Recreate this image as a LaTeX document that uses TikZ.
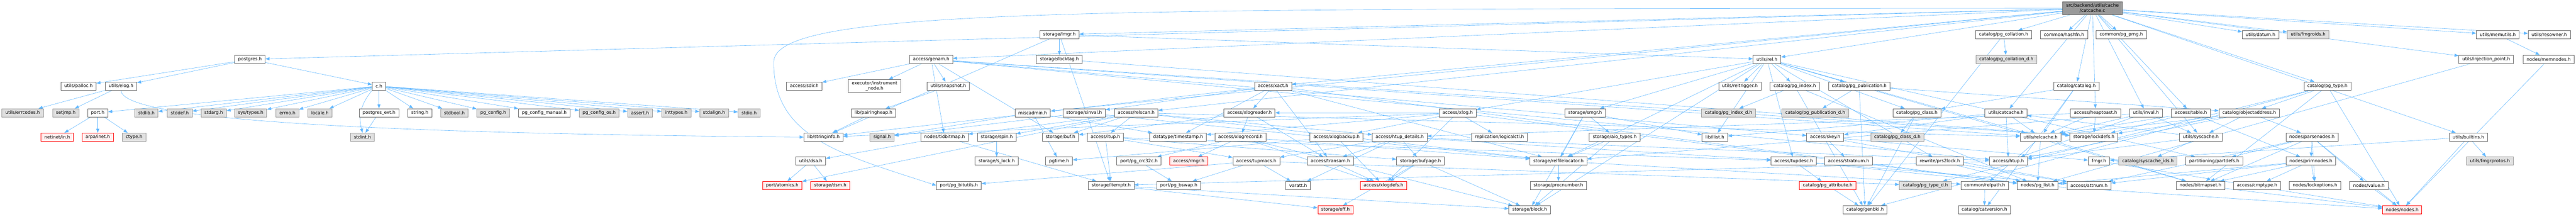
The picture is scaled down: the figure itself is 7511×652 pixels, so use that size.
\documentclass[tikz,border=0pt]{standalone}
\usepackage{fontspec}
\setmainfont{DejaVu Sans}
\usetikzlibrary{arrows.meta}
\definecolor{edgeblue}{RGB}{99,184,255}
\definecolor{bordergray}{RGB}{102,102,102}
\definecolor{lightborder}{RGB}{153,153,153}
\definecolor{grayfill}{RGB}{224,224,224}
\definecolor{redfill}{RGB}{255,240,240}
\definecolor{srcfill}{RGB}{153,153,153}
\pgfdeclarelayer{bg}
\pgfsetlayers{bg,main}
\begin{document}
\begin{tikzpicture}[x=1pt,y=-1pt,
  box/.style={draw, line width=1.2pt, inner xsep=10pt, inner ysep=0pt, minimum height=24pt, font=\fontsize{13}{15}\selectfont, anchor=center},
  wn/.style={box, draw=bordergray, fill=white},
  gn/.style={box, draw=lightborder, fill=grayfill},
  rn/.style={box, draw=red, fill=redfill},
  wn2/.style={box, draw=bordergray, fill=white, align=center, minimum height=38pt},
  srcn/.style={box, draw=bordergray, fill=srcfill, align=center, minimum height=38pt},
  edge/.style={draw=edgeblue, line width=0.9pt, -{Triangle[length=12pt,width=9pt]}}
]
\useasboundingbox (0,0) rectangle (7511,652);
% row 0
\node[srcn] (src) at (6101,24) {src/backend/utils/cache\\/catcache.c};
% row 1
\node[wn] (lmgr) at (3089,101) {storage/lmgr.h};
\node[wn] (pgcoll) at (5842,101) {catalog/pg\_collation.h};
\node[wn] (hashfn) at (6018,101) {common/hashfn.h};
\node[wn] (prng) at (6185,101) {common/pg\_prng.h};
\node[wn] (datum) at (6591,101) {utils/datum.h};
\node[gn] (fmgroids) at (6730,101) {utils/fmgroids.h};
\node[wn] (memutils) at (7283,101) {utils/memutils.h};
\node[wn] (resowner) at (7433,101) {utils/resowner.h};
% row 2
\node[wn] (postgres) at (729,173) {postgres.h};
\node[wn] (genam) at (2715,173) {access/genam.h};
\node[wn] (locktag) at (3089,173) {storage/locktag.h};
\node[wn] (rel) at (5152,173) {utils/rel.h};
\node[gn] (pgcolld) at (5850,173) {catalog/pg\_collation\_d.h};
\node[wn] (injp) at (7249,173) {utils/injection\_point.h};
\node[wn] (memnodes) at (7431,173) {nodes/memnodes.h};
% row 3
\node[wn] (palloc) at (229,251) {utils/palloc.h};
\node[wn] (elog) at (353,251) {utils/elog.h};
\node[wn] (ch) at (1105,251) {c.h};
\node[wn] (sdir) at (2345,251) {access/sdir.h};
\node[wn2] (instr) at (2550,251) {executor/instrument\\\_node.h};
\node[wn] (snapshot) at (2765,251) {utils/snapshot.h};
\node[wn] (xact) at (3712,251) {access/xact.h};
\node[wn] (reltrig) at (5073,251) {utils/reltrigger.h};
\node[wn] (pgindex) at (5233,251) {catalog/pg\_index.h};
\node[wn] (pgpub) at (5421,251) {catalog/pg\_publication.h};
\node[wn] (catalog) at (6054,251) {catalog/catalog.h};
\node[wn] (pgtype) at (6786,251) {catalog/pg\_type.h};
% row 4
\node[gn] (errcodes) at (66,329) {utils/errcodes.h};
\node[gn] (setjmp) at (192,329) {setjmp.h};
\node[wn] (port) at (285,329) {port.h};
\node[gn] (stdlib) at (427,329) {stdlib.h};
\node[gn] (stddef) at (524,329) {stddef.h};
\node[gn] (stdarg) at (623,329) {stdarg.h};
\node[gn] (systypes) at (731,329) {sys/types.h};
\node[gn] (errno) at (838,329) {errno.h};
\node[gn] (locale) at (933,329) {locale.h};
\node[wn] (pgext) at (1105,329) {postgres\_ext.h};
\node[wn] (string) at (1224,329) {string.h};
\node[gn] (stdbool) at (1325,329) {stdbool.h};
\node[gn] (pgconfig) at (1438,329) {pg\_config.h};
\node[wn] (pgcfgman) at (1587,329) {pg\_config\_manual.h};
\node[gn] (pgcfgos) at (1747,329) {pg\_config\_os.h};
\node[gn] (assert) at (1866,329) {assert.h};
\node[gn] (inttypes) at (1972,329) {inttypes.h};
\node[gn] (stdalign) at (2082,329) {stdalign.h};
\node[gn] (stdio) at (2184,329) {stdio.h};
\node[wn] (pairing) at (2547,329) {lib/pairingheap.h};
\node[wn] (misc) at (3011,329) {miscadmin.h};
\node[wn] (sinval) at (3161,329) {storage/sinval.h};
\node[wn] (relscan) at (3313,329) {access/relscan.h};
\node[wn] (xlogreader) at (3643,329) {access/xlogreader.h};
\node[wn] (xlog) at (4250,329) {access/xlog.h};
\node[wn] (smgr) at (4622,329) {storage/smgr.h};
\node[gn] (pgindexd) at (5040,329) {catalog/pg\_index\_d.h};
\node[gn] (pgpubd) at (5293,329) {catalog/pg\_publication\_d.h};
\node[wn] (pgclass) at (5589,329) {catalog/pg\_class.h};
\node[wn] (catcacheh) at (5849,329) {utils/catcache.h};
\node[wn] (heaptoast) at (6110,329) {access/heaptoast.h};
\node[wn] (inval) at (6257,329) {utils/inval.h};
\node[wn] (table) at (6388,329) {access/table.h};
\node[wn] (objaddr) at (6558,329) {catalog/objectaddress.h};
% row 5
\node[rn] (netinet) at (167,400) {netinet/in.h};
\node[rn] (arpa) at (285,400) {arpa/inet.h};
\node[gn] (ctype) at (391,400) {ctype.h};
\node[gn] (stdint) at (1057,400) {stdint.h};
\node[wn] (stringinfo) at (2401,400) {lib/stringinfo.h};
\node[gn] (signal) at (2572,400) {signal.h};
\node[wn] (tidbitmap) at (2754,400) {nodes/tidbitmap.h};
\node[wn] (spin) at (2906,400) {storage/spin.h};
\node[wn] (buf) at (3092,400) {storage/buf.h};
\node[wn] (itup) at (3223,400) {access/itup.h};
\node[wn] (timestamp) at (3435,400) {datatype/timestamp.h};
\node[wn] (xlogrecord) at (3617,400) {access/xlogrecord.h};
\node[wn] (xlogbackup) at (3897,400) {access/xlogbackup.h};
\node[wn] (htupdet) at (4081,400) {access/htup\_details.h};
\node[wn] (logicalctl) at (4372,400) {replication/logicalctl.h};
\node[wn] (aiotypes) at (4708,400) {storage/aio\_types.h};
\node[wn] (ilist) at (5000,400) {lib/ilist.h};
\node[wn] (skey) at (5322,400) {access/skey.h};
\node[gn] (pgclassd) at (5532,400) {catalog/pg\_class\_d.h};
\node[wn] (relcache) at (5950,400) {utils/relcache.h};
\node[wn] (lockdefs) at (6105,400) {storage/lockdefs.h};
\node[wn] (syscache) at (6417,400) {utils/syscache.h};
\node[wn] (parsenodes) at (6741,400) {nodes/parsenodes.h};
\node[wn] (builtins) at (7197,400) {utils/builtins.h};
% row 6
\node[wn] (dsa) at (2364,470) {utils/dsa.h};
\node[wn] (slock) at (2906,470) {storage/s\_lock.h};
\node[wn] (pgtime) at (3088,470) {pgtime.h};
\node[wn] (crc) at (3321,470) {port/pg\_crc32c.h};
\node[rn] (rmgr) at (3466,470) {access/rmgr.h};
\node[wn] (tupmacs) at (3663,470) {access/tupmacs.h};
\node[wn] (transam) at (3879,470) {access/transam.h};
\node[wn] (bufpage) at (4142,470) {storage/bufpage.h};
\node[wn] (relfileloc) at (4544,470) {storage/relfilelocator.h};
\node[wn] (tupdesc) at (5230,470) {access/tupdesc.h};
\node[wn] (stratnum) at (5390,470) {access/stratnum.h};
\node[wn] (prs2lock) at (5656,470) {rewrite/prs2lock.h};
\node[wn] (htup) at (5856,470) {access/htup.h};
\node[wn] (fmgr) at (6120,470) {fmgr.h};
\node[gn] (syscacheids) at (6263,470) {catalog/syscache\_ids.h};
\node[wn] (partdefs) at (6456,470) {partitioning/partdefs.h};
\node[wn] (primnodes) at (6738,470) {nodes/primnodes.h};
\node[gn] (fmgrprotos) at (7260,470) {utils/fmgrprotos.h};
% row 7
\node[rn] (atomics) at (2281,541) {port/atomics.h};
\node[rn] (dsm) at (2421,541) {storage/dsm.h};
\node[wn] (bitutils) at (2796,541) {port/pg\_bitutils.h};
\node[wn] (itemptr) at (3240,541) {storage/itemptr.h};
\node[wn] (bswap) at (3437,541) {port/pg\_bswap.h};
\node[wn] (varatt) at (3785,541) {varatt.h};
\node[rn] (xlogdefs) at (4034,541) {access/xlogdefs.h};
\node[wn] (procnumber) at (4544,541) {storage/procnumber.h};
\node[rn] (pgattr) at (5329,541) {catalog/pg\_attribute.h};
\node[gn] (pgtyped) at (5614,541) {catalog/pg\_type\_d.h};
\node[wn] (relpath) at (5787,541) {common/relpath.h};
\node[wn] (pglist) at (5941,541) {nodes/pg\_list.h};
\node[wn] (attnum) at (6091,541) {access/attnum.h};
\node[wn] (bitmapset) at (6416,541) {nodes/bitmapset.h};
\node[wn] (cmptype) at (6581,541) {access/cmptype.h};
\node[wn] (lockopts) at (6750,541) {nodes/lockoptions.h};
\node[wn] (value) at (6907,541) {nodes/value.h};
% row 8
\node[rn] (off) at (3894,612) {storage/off.h};
\node[wn] (block) at (4460,612) {storage/block.h};
\node[wn] (genbki) at (5438,612) {catalog/genbki.h};
\node[wn] (catversion) at (5786,612) {catalog/catversion.h};
\node[rn] (nodes) at (7004,612) {nodes/nodes.h};

\begin{pgfonlayer}{bg}
\foreach \a/\b in {
 src/postgres, src/genam, src/heaptoast, src/relscan, src/table, src/xact, src/catalog, src/pgcoll,
 src/pgtype, src/hashfn, src/prng, src/misc, src/lmgr, src/builtins, src/catcacheh,
 src/datum, src/fmgroids, src/injp, src/inval, src/memutils, src/rel, src/resowner, src/syscache,
 postgres/ch, postgres/elog, postgres/palloc,
 ch/pgconfig, ch/pgcfgman, ch/pgcfgos, ch/pgext, ch/stdio, ch/stdlib, ch/string, ch/stddef, ch/stdarg,
 ch/systypes, ch/errno, ch/locale, ch/stdbool, ch/assert, ch/inttypes, ch/stdalign, ch/port,
 pgext/stdint, port/netinet, port/arpa, port/ctype, elog/errcodes, elog/setjmp,
 genam/sdir, genam/instr, genam/snapshot, genam/tidbitmap, genam/buf, genam/skey, genam/htup, genam/lockdefs, genam/relcache,
 snapshot/pairing, pairing/stringinfo, dsa/atomics, dsa/dsm, tidbitmap/dsa, tidbitmap/itemptr,
 lmgr/stringinfo, lmgr/itemptr, lmgr/locktag, lmgr/rel, locktag/lockdefs,
 heaptoast/htupdet, heaptoast/lockdefs, heaptoast/relcache,
 relscan/htupdet, relscan/itup, relscan/tidbitmap, relscan/atomics, relscan/buf, relscan/relfileloc, relscan/spin, relscan/relcache,
 table/primnodes, table/lockdefs, table/relcache,
 xact/transam, xact/xlogreader, xact/timestamp, xact/stringinfo, xact/pglist, xact/relfileloc, xact/sinval,
 xlogreader/xlogrecord, xlogreader/buf, xlogreader/transam,
 xlogrecord/rmgr, xlogrecord/xlogdefs, xlogrecord/crc, xlogrecord/block, xlogrecord/relfileloc,
 crc/bswap, itup/tupdesc, itup/tupmacs, itup/bufpage, itup/itemptr,
 tupmacs/varatt, tupmacs/bswap, tupmacs/bitutils, tupmacs/pgtyped,
 itemptr/block, itemptr/off, misc/timestamp, misc/pgtime, misc/signal,
 sinval/signal, sinval/relfileloc, spin/slock,
 xlog/xlogbackup, xlog/xlogdefs, xlog/xlogreader, xlog/timestamp, xlog/stringinfo, xlog/pglist, xlog/logicalctl,
 rel/xlog, rel/smgr, rel/reltrig, rel/pgindex, rel/pgpub, rel/pgclass, rel/relfileloc, rel/block, rel/tupdesc,
 rel/bitmapset, rel/partdefs, rel/prs2lock, rel/relcache, rel/ilist,
 xlogbackup/xlogdefs, xlogbackup/pgtime,
 htupdet/htup, htupdet/transam, htupdet/tupdesc, htupdet/tupmacs, htupdet/bufpage, htupdet/varatt,
 transam/xlogdefs, bufpage/xlogdefs, bufpage/block, bufpage/off,
 smgr/ilist, smgr/aiotypes, smgr/block, smgr/relfileloc, aiotypes/block, aiotypes/relfileloc,
 relfileloc/relpath, relfileloc/procnumber,
 pgindex/genbki, pgindex/pgindexd, pgindex/pglist, pgpub/genbki, pgpub/objaddr, pgpub/pgpubd,
 pgclass/genbki, pgclass/pgclassd, pgattr/genbki,
 skey/attnum, skey/stratnum, skey/fmgr, tupdesc/attnum, tupdesc/pgattr, tupdesc/pglist,
 pgcoll/genbki, pgcoll/pgcolld, catalog/catversion, catalog/pgclass, catalog/relcache,
 catcacheh/htup, catcacheh/skey, catcacheh/ilist, catcacheh/relcache,
 relcache/relpath, relcache/bitmapset, relcache/pglist, htup/itemptr, fmgr/nodes, relpath/catversion,
 pglist/nodes, prs2lock/attnum, prs2lock/pglist,
 inval/htup, inval/relfileloc, inval/relcache, inval/syscache,
 syscache/htup, syscache/syscacheids, syscache/catcacheh,
 objaddr/htup, objaddr/parsenodes, objaddr/lockdefs, objaddr/relcache, objaddr/syscache,
 pgtype/objaddr, pgtype/genbki, pgtype/pgtyped, pgtype/nodes, pgtype/bitmapset,
 parsenodes/bitmapset, parsenodes/lockopts, parsenodes/primnodes, parsenodes/value, parsenodes/partdefs,
 parsenodes/nodes, parsenodes/attnum,
 primnodes/attnum, primnodes/cmptype, primnodes/bitmapset, primnodes/lockopts, primnodes/pglist,
 bitmapset/nodes, value/nodes, memnodes/nodes, memutils/memnodes, injp/pglist,
 builtins/fmgrprotos, builtins/nodes, builtins/fmgr}
 {\draw[edge] (\a) -- (\b);}
\draw[edge] (elog.south) .. controls +(0,90) and +(-1200,-10) .. (stringinfo.west);
\draw[edge] (ch.south west) .. controls +(-40,50) and +(-10,-40) .. (stdint.north);
\draw[edge] (src.west) .. controls (3200,26) and (2262,20) .. (2256,180) .. controls (2254,400) and (2450,450) .. (bitutils.west);
\end{pgfonlayer}
\end{tikzpicture}
\end{document}
